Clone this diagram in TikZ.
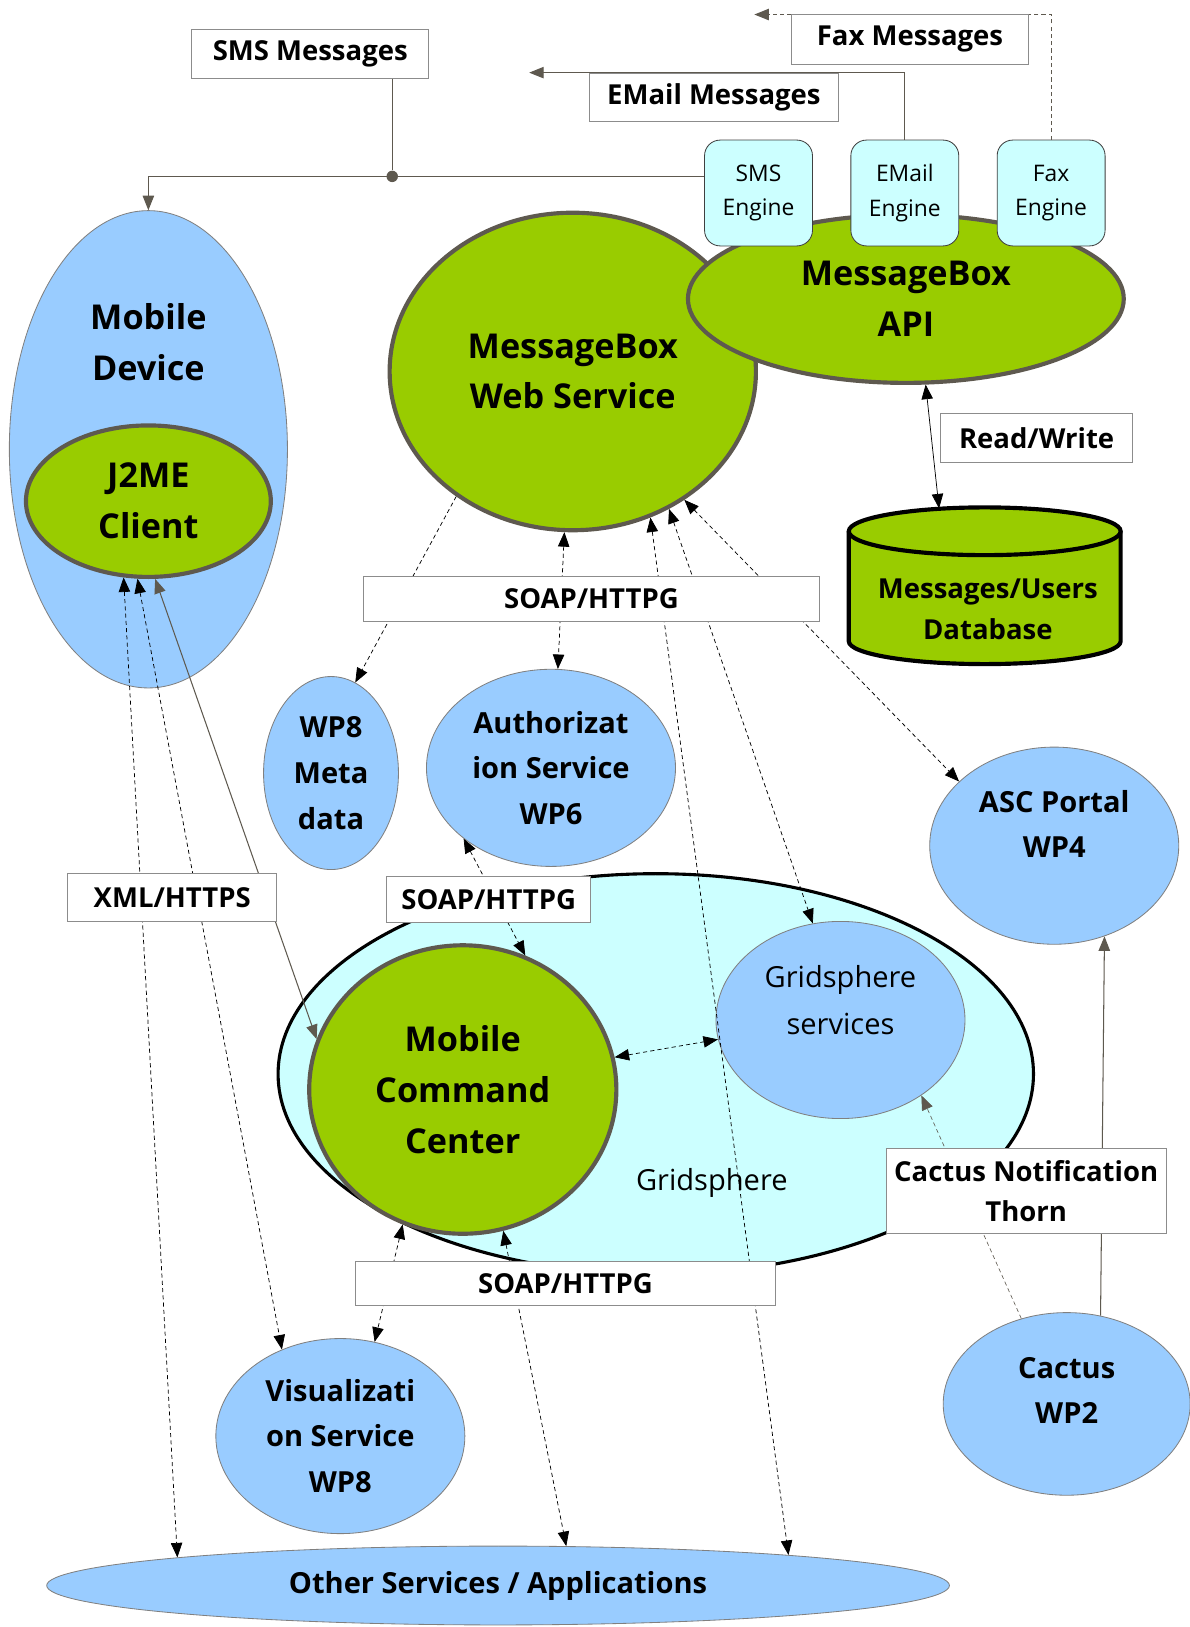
\documentclass[tikz,border=0pt]{standalone}
\usepackage{fontspec}
\setmainfont{Open Sans}
\usepackage{tikz}
\usetikzlibrary{arrows.meta}
\usetikzlibrary{positioning}
\usetikzlibrary{shapes.geometric}

\definecolor{mbgreen}{HTML}{99CC00}
\definecolor{mbblue}{HTML}{99CCFF}
\definecolor{mbcyan}{HTML}{CCFFFF}
\definecolor{mbgray}{HTML}{5E594F}

\begin{document}
\begin{tikzpicture}
	[x=1pt,y=-1pt,
	bigtxt/.style={font=\bfseries\fontsize{33}{49}\selectfont,align=center},
	midtxt/.style={font=\bfseries\fontsize{28}{44}\selectfont,align=center},
	thintxt/.style={font=\fontsize{28}{45}\selectfont,align=center},
	boxtxt/.style={font=\bfseries\fontsize{26.5}{39}\selectfont,align=center},
	greenshape/.style={ellipse,draw=mbgray,line width=4pt,fill=mbgreen,inner sep=0pt,bigtxt},
	blueshape/.style={ellipse,draw=black!50,line width=0.8pt,fill=mbblue,inner sep=0pt,midtxt},
	engine/.style={rectangle,rounded corners=15pt,draw=black!75,line width=0.8pt,fill=mbcyan,
		minimum width=104pt,minimum height=102pt,align=center,font=\fontsize{22}{33}\selectfont},
	msgbox/.style={rectangle,draw=black!45,line width=1pt,fill=white,inner sep=0pt,boxtxt},
	mbtip/.tip={Triangle[length=14pt,width=11pt]},
	dlink/.style={draw=black,line width=0.7pt,dash pattern=on 4pt off 3pt,mbtip-mbtip},
	dlinkend/.style={draw=black,line width=0.7pt,dash pattern=on 4pt off 3pt,-mbtip},
	gline/.style={draw=mbgray,line width=1pt},
	glink/.style={gline,-mbtip}]

	\path[use as bounding box,fill=white] (0,0) rectangle (1146,1568);

	\node[blueshape,minimum width=268pt,minimum height=460pt,
		label={[bigtxt,yshift=103pt]center:Mobile\\Device}] (mobile) at (143,433) {};
	\node[greenshape,minimum width=236pt,minimum height=146pt] (j2me) at (143,483) {J2ME\\Client};

	\node[greenshape,minimum width=353pt,minimum height=306pt] (ws) at (552,358) {MessageBox\\Web Service};
	\node[greenshape,minimum width=420pt,minimum height=162pt] (api) at (873,288) {MessageBox\\API};
	\node[engine] (smseng) at (731,186) {SMS\\Engine};
	\node[engine] (emaileng) at (872,186) {EMail\\Engine};
	\node[engine] (faxeng) at (1013,186) {Fax\\Engine};

	\fill[mbgreen] (818,512) -- (818,618) arc[start angle=180,end angle=0,x radius=131,y radius=22] -- (1080,512) -- cycle;
	\draw[line width=4pt] (818,512) -- (818,618) arc[start angle=180,end angle=0,x radius=131,y radius=22] -- (1080,512);
	\draw[line width=4pt,fill=mbgreen] (949,512) ellipse[x radius=131,y radius=23];
	\node[boxtxt] (db) at (952,587) {Messages/Users\\Database};
	\coordinate (dbtop) at (905,490);

	\node[blueshape,minimum width=130pt,minimum height=186pt] (wp8meta) at (319,745) {WP8\\Meta\\data};
	\node[blueshape,minimum width=240pt,minimum height=190pt] (auth) at (531,740) {Authorizat\\ion Service\\WP6};
	\node[blueshape,minimum width=240pt,minimum height=190pt,
		label={[midtxt,yshift=21pt]center:ASC Portal\\WP4}] (asc) at (1016,815) {};

	\node[ellipse,draw=black,line width=3pt,fill=mbcyan,minimum width=728pt,minimum height=386pt,
		label={[thintxt,xshift=54pt,yshift=-105pt]center:Gridsphere}] (grid) at (632,1035) {};
	\node[greenshape,minimum width=296pt,minimum height=278pt] (mcc) at (446,1050) {Mobile\\Command\\Center};
	\node[blueshape,minimum width=240pt,minimum height=190pt,
		label={[thintxt,yshift=19pt]center:Gridsphere\\services}] (gss) at (810,983) {};

	\node[blueshape,minimum width=240pt,minimum height=188pt] (vis) at (328,1384) {Visualizati\\on Service\\WP8};
	\node[blueshape,minimum width=238pt,minimum height=176pt,
		label={[midtxt,yshift=13pt]center:Cactus\\WP2}] (cactus) at (1028,1353) {};
	\node[blueshape,minimum width=870pt,minimum height=76pt] (other) at (480,1528) {Other Services / Applications};

	\node[circle,fill=mbgray,inner sep=0pt,minimum size=11pt] (dot) at (378,170) {};
	\coordinate (emailend) at (510,70);
	\coordinate (faxend) at (727,14);

	\draw[glink] (smseng.west |- dot) -- (dot.center) -| (mobile.north);
	\draw[glink] (emaileng.north) |- (emailend);
	\draw[glink,dash pattern=on 4pt off 3pt] (faxeng.north) |- (faxend);
	\draw[draw=black,line width=0.7pt,mbtip-mbtip] (api.283) -- (dbtop);
	\draw[dlinkend] (ws.227) -- (wp8meta.75);
	\foreach \from/\to in {ws.267/auth.86, ws.298/other.6.7, ws.305/gss.106, ws.311/asc.146,
		auth.219/mcc.65, mcc.12/gss.189, mcc.246/vis.70, mcc.286/other.30,
		j2me.252/other.175, j2me.262/vis.124}
		\draw[dlink] (\from) -- (\to);
	\draw[gline,mbtip-mbtip] (j2me.275) -- (mcc.161);
	\draw[glink,line width=0.6pt,dash pattern=on 4pt off 3pt] (cactus.118) -- (gss.317);
	\draw[glink] (cactus.69) -- (asc.299);

	\node[msgbox,minimum width=228pt,minimum height=48pt] (smsmsg) at (299,52) {SMS Messages};
	\draw[gline] (smsmsg.south -| dot) -- (dot);
	\node[msgbox,minimum width=240pt,minimum height=47pt] (emailmsg) at (688,94) {EMail Messages};
	\node[msgbox,minimum width=229pt,minimum height=48pt] (faxmsg) at (877,38) {Fax Messages};
	\node[msgbox,minimum width=185pt,minimum height=47pt] (rw) at (999,422) {Read/Write};
	\node[msgbox,minimum width=440pt,minimum height=43pt] (soaptop) at (570,577) {SOAP/HTTPG};
	\node[msgbox,minimum width=201pt,minimum height=46pt] (xml) at (166,865) {XML/HTTPS};
	\node[msgbox,minimum width=197pt,minimum height=44pt] (soapmid) at (471,867) {SOAP/HTTPG};
	\node[msgbox,minimum width=270pt,minimum height=82pt] (cactusnote) at (989,1148) {Cactus Notification\\Thorn};
	\node[msgbox,minimum width=404pt,minimum height=42pt] (soapbot) at (545,1237) {SOAP/HTTPG};
\end{tikzpicture}
\end{document}
